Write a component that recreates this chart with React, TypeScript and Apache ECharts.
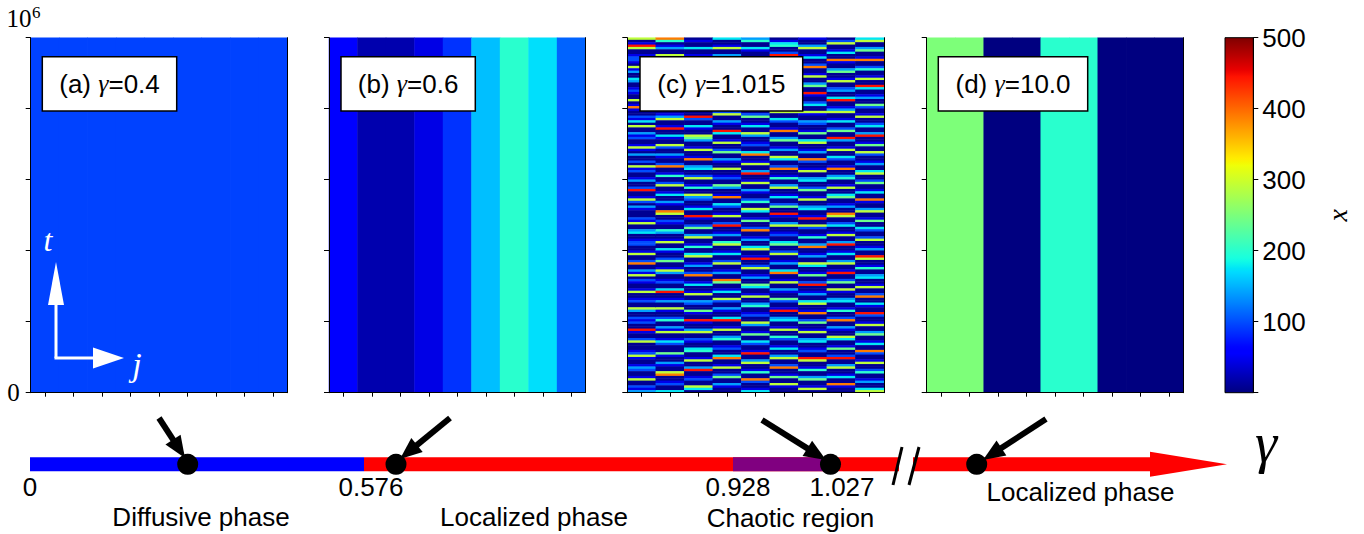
import { useEffect, useRef } from 'react';
import * as echarts from 'echarts';

// ---------------- data ----------------
const SITES = ['1', '2', '3', '4', '5', '6', '7', '8', '9'];
const PANEL_A_X = [95, 95, 95, 95, 95, 95, 95, 95, 95];
const PANEL_B_X = [58, 20, 20, 44, 87, 156, 200, 172, 111];
const PANEL_D_X = [251, 251, 0, 0, 200, 200, 0, 0, 0];
// panel (c): each column is a string of level codes (top row first)
const PANEL_C_LEVELS = [8, 45, 100, 140, 176, 200, 240, 290, 390, 445];
const PANEL_C_COLUMNS = [
  '701970012210713004300121007018' + '100214070031200171030020712001' + '300290017203100021700340012200' + '170028003170210017001200730021' + '200910027000127100132001700213',
  '850130072001400260013001700504' + '001370019004100720031002800150' + '027001400310087002100530017004' + '100260017300120049001300710025' + '003170014200061003100780012004',
  '010040015200370016003100720014' + '300920041007630017001800340027' + '001500732001400910026003700150' + '047001300280014001700320061009' + '100370021004500170039001200740',
  '400170032001600480021007300140' + '027003100940017002600310070012' + '006300180042001700290013005700' + '140027001300860014007200310049' + '001700350012004800170026003100',
  '350041002700180036001400920017' + '002600140073001200480017003900' + '170031002500740016002800130047' + '001900270013006400170035001200' + '730016004200190037001500820014',
  '014500290037001600710024009300' + '170042001800360013007400280015' + '003700140026009100370012004600' + '270013004800170031006200190034' + '001700520014003700280016007100',
  '100370014002800170036009100240' + '071003200160047001300820017003' + '400260017003400190072001500380' + '013007400160029001300470018002' + '600170034001200970015003600170',
  '027001400810036001700230049001' + '370014002600930017004200180035' + '001700460013008700240017003900' + '140037001900260071003400150028' + '003100740016002900370014008100',
  '470036001800250017009400130062' + '001700240039001600720013004700' + '260014008100370016004200270013' + '009700150034001700280041009200' + '170036001400820017002500130047',
];
const PANEL_LABELS = ['(a)', '(b)', '(c)', '(d)'];
const PANEL_GAMMAS = ['0.4', '0.6', '1.015', '10.0'];
const T_MIN = 0;
const T_MAX = 1; // in units of 10^6
const T_INTERVAL = 0.2;
const X_MIN = 0;
const X_MAX = 500;
const X_INTERVAL = 100;
const PHASE_BOUNDS = ['0', '0.576', '0.928', '1.027'];
const PHASE_NAMES = ['Diffusive phase', 'Localized phase', 'Chaotic region', 'Localized phase'];

// ---------------- layout ----------------
const PANEL_LEFT = [30.7, 329, 627.3, 926.7];
const PANEL_W = 256.6;
const PANEL_TOP = 37.7;
const PANEL_H = 355;
const CB_LEFT = 1225;
const CB_W = 28.3;
const BOX = [
  { x: 42.3, w: 134.4 },
  { x: 341, w: 134.3 },
  { x: 640, w: 162.7 },
  { x: 938.3, w: 149.4 },
];
const BOX_Y = 56.7;
const BOX_H = 54.3;

const SANS = '"Liberation Sans", Arial, Helvetica, sans-serif';
const SERIF = '"Liberation Serif", "Times New Roman", serif';

function jet(t: number): string {
  const cl = (v: number) => Math.max(0, Math.min(1, v));
  let r: number, g: number, b: number;
  if (t < 0.35) r = 0;
  else if (t < 0.66) r = (t - 0.35) / 0.31;
  else if (t < 0.89) r = 1;
  else r = 1 - (0.5 * (t - 0.89)) / 0.11;
  if (t < 0.125) g = 0;
  else if (t < 0.375) g = (t - 0.125) / 0.25;
  else if (t < 0.64) g = 1;
  else if (t < 0.91) g = 1 - (t - 0.64) / 0.27;
  else g = 0;
  if (t < 0.11) b = 0.5 + (0.5 * t) / 0.11;
  else if (t < 0.34) b = 1;
  else if (t < 0.65) b = 1 - (t - 0.34) / 0.31;
  else b = 0;
  return `rgb(${Math.round(cl(r) * 255)},${Math.round(cl(g) * 255)},${Math.round(cl(b) * 255)})`;
}
const JET = Array.from({ length: 101 }, (_, i) => jet(i / 100));

function arrowEls(x1: number, y1: number, x2: number, y2: number, color: string, w: number, hl: number, hw: number) {
  const dx = x2 - x1;
  const dy = y2 - y1;
  const L = Math.hypot(dx, dy);
  const ux = dx / L;
  const uy = dy / L;
  const bx = x2 - ux * hl;
  const by = y2 - uy * hl;
  const px = -uy;
  const py = ux;
  return [
    { type: 'line', z: 100, shape: { x1, y1, x2: bx + ux, y2: by + uy }, style: { stroke: color, lineWidth: w } },
    {
      type: 'polygon',
      z: 100,
      shape: { points: [[x2, y2], [bx + px * hw, by + py * hw], [bx - px * hw, by - py * hw]] },
      style: { fill: color },
    },
  ];
}

function buildOption() {
  const grids: any[] = PANEL_LEFT.map((l) => ({ left: l, top: PANEL_TOP, width: PANEL_W, height: PANEL_H }));
  grids.push({ left: CB_LEFT, top: PANEL_TOP, width: CB_W, height: PANEL_H });

  const xAxes: any[] = [];
  const yAxes: any[] = [];
  const series: any[] = [];
  const rowsC = PANEL_C_COLUMNS[0].length;

  for (let p = 0; p < 4; p++) {
    xAxes.push({
      gridIndex: p,
      type: 'category',
      data: SITES,
      position: 'bottom',
      z: 10,
      axisLine: { show: true, lineStyle: { color: '#000', width: 1 } },
      axisTick: { show: true, alignWithLabel: true, length: 4, lineStyle: { color: '#000' } },
      axisLabel: { show: false },
      splitLine: { show: false },
    });
    xAxes.push({
      gridIndex: p,
      type: 'category',
      data: SITES,
      position: 'top',
      z: 10,
      axisLine: { show: true, lineStyle: { color: '#000', width: 1 } },
      axisTick: { show: false },
      axisLabel: { show: false },
      splitLine: { show: false },
    });
    const rows = p === 2 ? Array.from({ length: rowsC }, (_, i) => String(i)) : ['t'];
    yAxes.push({ gridIndex: p, type: 'category', data: rows, show: false, inverse: true });
    yAxes.push({
      gridIndex: p,
      type: 'value',
      min: T_MIN,
      max: T_MAX,
      interval: T_INTERVAL,
      position: 'left',
      z: 10,
      axisLine: { show: true, lineStyle: { color: '#000', width: 1 } },
      axisTick: { show: true, length: 5, lineStyle: { color: '#000' } },
      axisLabel: {
        show: p === 0,
        margin: 11,
        formatter: (v: number) => (v === 0 ? '0' : ''),
        color: '#000',
        fontSize: 25,
        fontFamily: SERIF,
      },
      splitLine: { show: false },
    });
    yAxes.push({
      gridIndex: p,
      type: 'value',
      min: T_MIN,
      max: T_MAX,
      position: 'right',
      z: 10,
      axisLine: { show: true, lineStyle: { color: '#000', width: 1 } },
      axisTick: { show: false },
      axisLabel: { show: false },
      splitLine: { show: false },
    });

    let data: number[][] = [];
    if (p === 0) data = PANEL_A_X.map((v, i) => [i, 0, v]);
    if (p === 1) data = PANEL_B_X.map((v, i) => [i, 0, v]);
    if (p === 3) data = PANEL_D_X.map((v, i) => [i, 0, v]);
    if (p === 2) {
      PANEL_C_COLUMNS.forEach((col, i) => {
        for (let r = 0; r < col.length; r++) data.push([i, r, PANEL_C_LEVELS[Number(col[r])]]);
      });
    }
    series.push({
      type: 'heatmap',
      xAxisIndex: p * 2,
      yAxisIndex: p * 3,
      data,
      progressive: 0,
      itemStyle: { borderWidth: 0 },
      emphasis: { disabled: true },
    });
  }

  // colorbar axis
  xAxes.push({ gridIndex: 4, type: 'category', data: ['x'], show: false });
  yAxes.push({
    gridIndex: 4,
    type: 'value',
    min: X_MIN,
    max: X_MAX,
    interval: X_INTERVAL,
    position: 'right',
    z: 10,
    axisLine: { show: true, lineStyle: { color: '#000', width: 1 } },
    axisTick: { show: true, length: 5, lineStyle: { color: '#000' } },
    axisLabel: {
      margin: 9,
      formatter: (v: number) => (v === 0 ? '' : String(v)),
      color: '#000',
      fontSize: 26,
      fontFamily: SANS,
    },
    splitLine: { show: false },
    name: 'x',
    nameLocation: 'middle',
    nameGap: 70,
    nameRotate: 90,
    nameTextStyle: { fontSize: 28, fontStyle: 'italic', fontFamily: SERIF, color: '#000' },
  });

  const graphic: any[] = [];
  // colorbar gradient
  graphic.push({
    type: 'rect',
    z: 5,
    shape: { x: CB_LEFT, y: PANEL_TOP, width: CB_W, height: PANEL_H },
    style: {
      fill: {
        type: 'linear',
        x: 0,
        y: 1,
        x2: 0,
        y2: 0,
        colorStops: JET.map((c, i) => ({ offset: i / 100, color: c })),
      },
      stroke: '#000',
      lineWidth: 1,
    },
  });
  // 10^6
  graphic.push({ type: 'text', z: 100, x: 6.5, y: 18.5, style: { text: '10', fontSize: 25, fontFamily: SERIF, fill: '#000', verticalAlign: 'middle' } });
  graphic.push({ type: 'text', z: 100, x: 32, y: 12.5, style: { text: '6', fontSize: 17, fontFamily: SERIF, fill: '#000', verticalAlign: 'middle' } });

  // panel label boxes
  for (let p = 0; p < 4; p++) {
    const b = BOX[p];
    graphic.push({
      type: 'rect',
      z: 100,
      shape: { x: b.x, y: BOX_Y, width: b.w, height: BOX_H },
      style: { fill: '#fff', stroke: '#000', lineWidth: 1.5 },
    });
    graphic.push({
      type: 'text',
      z: 101,
      x: b.x + b.w / 2,
      y: BOX_Y + BOX_H / 2,
      style: {
        text: `{n|${PANEL_LABELS[p]} }{g|γ}{n|=${PANEL_GAMMAS[p]}}`,
        align: 'center',
        verticalAlign: 'middle',
        fill: '#000',
        rich: {
          n: { fontSize: 26, fontFamily: SANS, fill: '#000' },
          g: { fontSize: 26, fontFamily: SERIF, fontStyle: 'italic', fill: '#000' },
        },
      },
    });
  }

  // white t / j arrows in panel (a)
  graphic.push(...arrowEls(56, 358, 56, 262, '#fff', 3, 43, 8));
  graphic.push(...arrowEls(54.5, 358, 124, 358, '#fff', 3, 31, 10.5));
  graphic.push({ type: 'text', z: 100, x: 48, y: 240, style: { text: 't', fontSize: 32, fontStyle: 'italic', fontFamily: SERIF, fill: '#fff', align: 'center', verticalAlign: 'middle' } });
  graphic.push({ type: 'text', z: 100, x: 137, y: 364, style: { text: 'j', fontSize: 34, fontStyle: 'italic', fontFamily: SERIF, fill: '#fff', align: 'center', verticalAlign: 'middle' } });

  // phase diagram
  const LY = 457.3;
  const LH = 14;
  const LC = LY + LH / 2;
  graphic.push({ type: 'rect', z: 50, shape: { x: 30, y: LY, width: 334, height: LH }, style: { fill: '#0000ff' } });
  graphic.push({ type: 'rect', z: 50, shape: { x: 364, y: LY, width: 787, height: LH }, style: { fill: '#ff0000' } });
  graphic.push({ type: 'rect', z: 51, shape: { x: 733, y: LY, width: 97, height: LH }, style: { fill: '#800080' } });
  graphic.push({ type: 'rect', z: 51, shape: { x: 899, y: LY - 1, width: 14, height: LH + 2 }, style: { fill: '#fff' } });
  graphic.push({ type: 'polygon', z: 50, shape: { points: [[1150, LC - 12.5], [1150, LC + 12.5], [1227, LC]] }, style: { fill: '#ff0000' } });
  graphic.push({ type: 'line', z: 60, shape: { x1: 893, y1: 485, x2: 902, y2: 447 }, style: { stroke: '#000', lineWidth: 3 } });
  graphic.push({ type: 'line', z: 60, shape: { x1: 909, y1: 485, x2: 919, y2: 447 }, style: { stroke: '#000', lineWidth: 3 } });
  [187.7, 396, 830.5, 976.7].forEach((cx) => {
    graphic.push({ type: 'circle', z: 70, shape: { cx, cy: LC, r: 10.5 }, style: { fill: '#000' } });
  });
  graphic.push(...arrowEls(159, 418, 185, 458, '#000', 6, 22, 9));
  graphic.push(...arrowEls(450, 418, 400, 459, '#000', 6, 22, 9));
  graphic.push(...arrowEls(762, 420, 826, 460, '#000', 6, 22, 9));
  graphic.push(...arrowEls(1046, 419, 983, 460, '#000', 6, 22, 9));

  const boundX = [30, 371, 738, 842];
  PHASE_BOUNDS.forEach((t, i) => {
    graphic.push({ type: 'text', z: 80, x: boundX[i], y: 487, style: { text: t, fontSize: 26, fontFamily: SANS, fill: '#000', align: 'center', verticalAlign: 'middle' } });
  });
  const nameX = [201, 534, 790.5, 1080.5];
  const nameY = [517, 517, 518, 492];
  PHASE_NAMES.forEach((t, i) => {
    graphic.push({ type: 'text', z: 80, x: nameX[i], y: nameY[i], style: { text: t, fontSize: 26, fontFamily: SANS, fill: '#000', align: 'center', verticalAlign: 'middle' } });
  });
  graphic.push({ type: 'text', z: 80, x: 1266, y: 443, style: { text: 'γ', fontSize: 56, fontStyle: 'italic', fontFamily: SERIF, fill: '#000', align: 'center', verticalAlign: 'middle' } });

  return {
    animation: false,
    backgroundColor: '#fff',
    grid: grids,
    xAxis: xAxes,
    yAxis: yAxes,
    visualMap: {
      type: 'continuous',
      show: false,
      min: X_MIN,
      max: X_MAX,
      dimension: 2,
      seriesIndex: [0, 1, 2, 3],
      inRange: { color: JET },
    },
    series,
    graphic,
  };
}

export default function App() {
  const ref = useRef<HTMLDivElement>(null);
  useEffect(() => {
    if (!ref.current) return;
    const chart = echarts.init(ref.current, undefined, { renderer: 'svg' });
    chart.setOption(buildOption() as any);
    return () => chart.dispose();
  }, []);
  return <div ref={ref} style={{ position: 'fixed', left: 0, top: 0, width: 1364, height: 534 }} />;
}
